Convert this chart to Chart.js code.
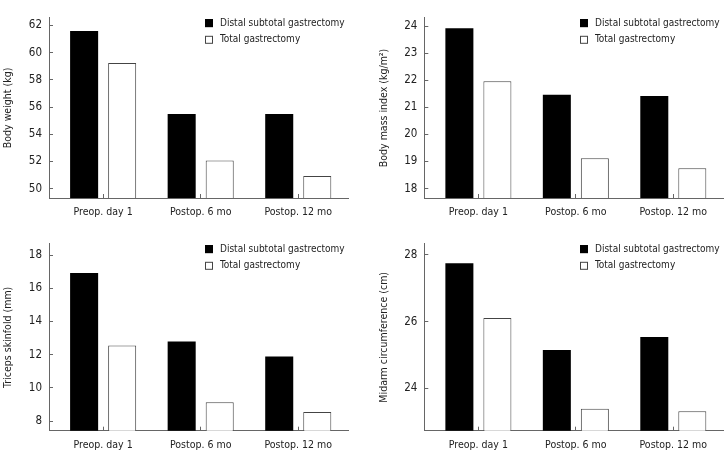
<!DOCTYPE html>
<html>
<head>
<meta charset="utf-8">
<script src="https://cdn.jsdelivr.net/npm/chart.js@4.4.0/dist/chart.umd.min.js"></script>
<style>
  html, body { margin: 0; padding: 0; background: #fff; }
  .panel { position: absolute; }
</style>
</head>
<body>
<div class="panel" style="left:0;top:0"><canvas id="weight" width="363" height="226"></canvas></div>
<div class="panel" style="left:363px;top:0"><canvas id="bmi" width="364" height="226"></canvas></div>
<div class="panel" style="left:0;top:226px"><canvas id="triceps" width="363" height="227"></canvas></div>
<div class="panel" style="left:363px;top:226px"><canvas id="midarm" width="364" height="227"></canvas></div>
<script>
const categories = ['Preop. day 1', 'Postop. 6 mo', 'Postop. 12 mo'];
const seriesNames = ['Distal subtotal gastrectomy', 'Total gastrectomy'];

const weightDistal = [61.6, 55.48, 55.48];
const weightTotal = [59.23, 52.06, 50.92];
const weightTicks = [50, 52, 54, 56, 58, 60, 62];

const bmiDistal = [23.92, 21.46, 21.42];
const bmiTotal = [21.96, 19.12, 18.75];
const bmiTicks = [18, 19, 20, 21, 22, 23, 24];

const tricepsDistal = [16.92, 12.79, 11.9];
const tricepsTotal = [12.56, 9.14, 8.55];
const tricepsTicks = [8, 10, 12, 14, 16, 18];

const midarmDistal = [27.75, 25.15, 25.54];
const midarmTotal = [26.11, 23.39, 23.31];
const midarmTicks = [24, 26, 28];

const FONT = '"DejaVu Sans Condensed", "DejaVu Sans", sans-serif';
Chart.defaults.font.family = FONT;
Chart.defaults.color = '#222';

// legend drawn inside the plot, top right, one item per row
const legendBoxes = {
  id: 'legendBoxes',
  afterDraw(chart) {
    const { ctx, chartArea } = chart;
    ctx.save();
    ctx.font = '10px ' + FONT;
    ctx.textBaseline = 'middle';
    chart.data.datasets.forEach((ds, i) => {
      const x = chartArea.right - 143;
      const y = chartArea.top + 5.2 + i * 16.7;
      ctx.fillStyle = ds.backgroundColor;
      ctx.fillRect(x, y - 4, 8, 8);
      ctx.strokeStyle = ds.borderColor;
      ctx.lineWidth = 1;
      ctx.strokeRect(x + 0.5, y - 3.5, 7, 7);
      ctx.fillStyle = '#222';
      ctx.fillText(ds.label, x + 15, y);
    });
    ctx.restore();
  }
};

function makeChart(id, distal, total, ticks, yTitle, box) {
  const grid = { drawOnChartArea: false, drawTicks: true, tickLength: -4, color: '#666', offset: false };
  return new Chart(document.getElementById(id), {
    type: 'bar',
    data: {
      datasets: [
        {
          label: seriesNames[0],
          data: distal.map((v, i) => ({ x: i, y: v })),
          backgroundColor: '#000',
          borderColor: '#000',
          borderWidth: 0
        },
        {
          label: seriesNames[1],
          data: total.map((v, i) => ({ x: i, y: v })),
          backgroundColor: '#fff',
          borderColor: '#444',
          borderWidth: 1
        }
      ]
    },
    options: {
      responsive: false,
      animation: false,
      categoryPercentage: 0.78,
      barPercentage: 0.737,
      layout: { padding: { top: box.top, right: box.right, left: 0, bottom: 0 } },
      plugins: { legend: { display: false }, tooltip: { enabled: false } },
      scales: {
        x: {
          type: 'linear',
          offset: false,
          min: -0.555,
          max: 2.51,
          afterBuildTicks: s => { s.ticks = categories.map((c, i) => ({ value: i })); },
          afterFit: s => { s.height = box.xHeight; },
          ticks: {
            callback: v => categories[v],
            autoSkip: false,
            maxRotation: 0,
            padding: 12,
            font: { size: 10.5 }
          },
          grid: grid,
          border: { color: '#666' }
        },
        y: {
          min: box.min,
          max: box.max,
          afterBuildTicks: s => { s.ticks = ticks.map(v => ({ value: v })); },
          afterFit: s => { s.width = box.axisWidth; },
          ticks: { padding: 11, font: { size: 11.5 } },
          grid: grid,
          border: { color: '#666' },
          title: {
            display: true,
            text: yTitle,
            padding: { top: box.titlePad, bottom: 0 },
            font: { size: 10.5 }
          }
        }
      }
    },
    plugins: [legendBoxes]
  });
}

makeChart('weight', weightDistal, weightTotal, weightTicks, 'Body weight (kg)',
  { min: 49.306, max: 62.555, axisWidth: 49, top: 7, right: 15, xHeight: 28, titlePad: 2 });
makeChart('bmi', bmiDistal, bmiTotal, bmiTicks, 'Body mass index (kg/m²)',
  { min: 17.65, max: 24.30, axisWidth: 61.3, top: 7, right: 4, xHeight: 28, titlePad: 14.7 });
makeChart('triceps', tricepsDistal, tricepsTotal, tricepsTicks, 'Triceps skinfold (mm)',
  { min: 7.43, max: 18.67, axisWidth: 49, top: 13.3, right: 15, xHeight: 22.3, titlePad: 2 });
makeChart('midarm', midarmDistal, midarmTotal, midarmTicks, 'Midarm circumference (cm)',
  { min: 22.73, max: 28.33, axisWidth: 61.3, top: 13.3, right: 4, xHeight: 22.3, titlePad: 14.7 });
</script>
</body>
</html>
